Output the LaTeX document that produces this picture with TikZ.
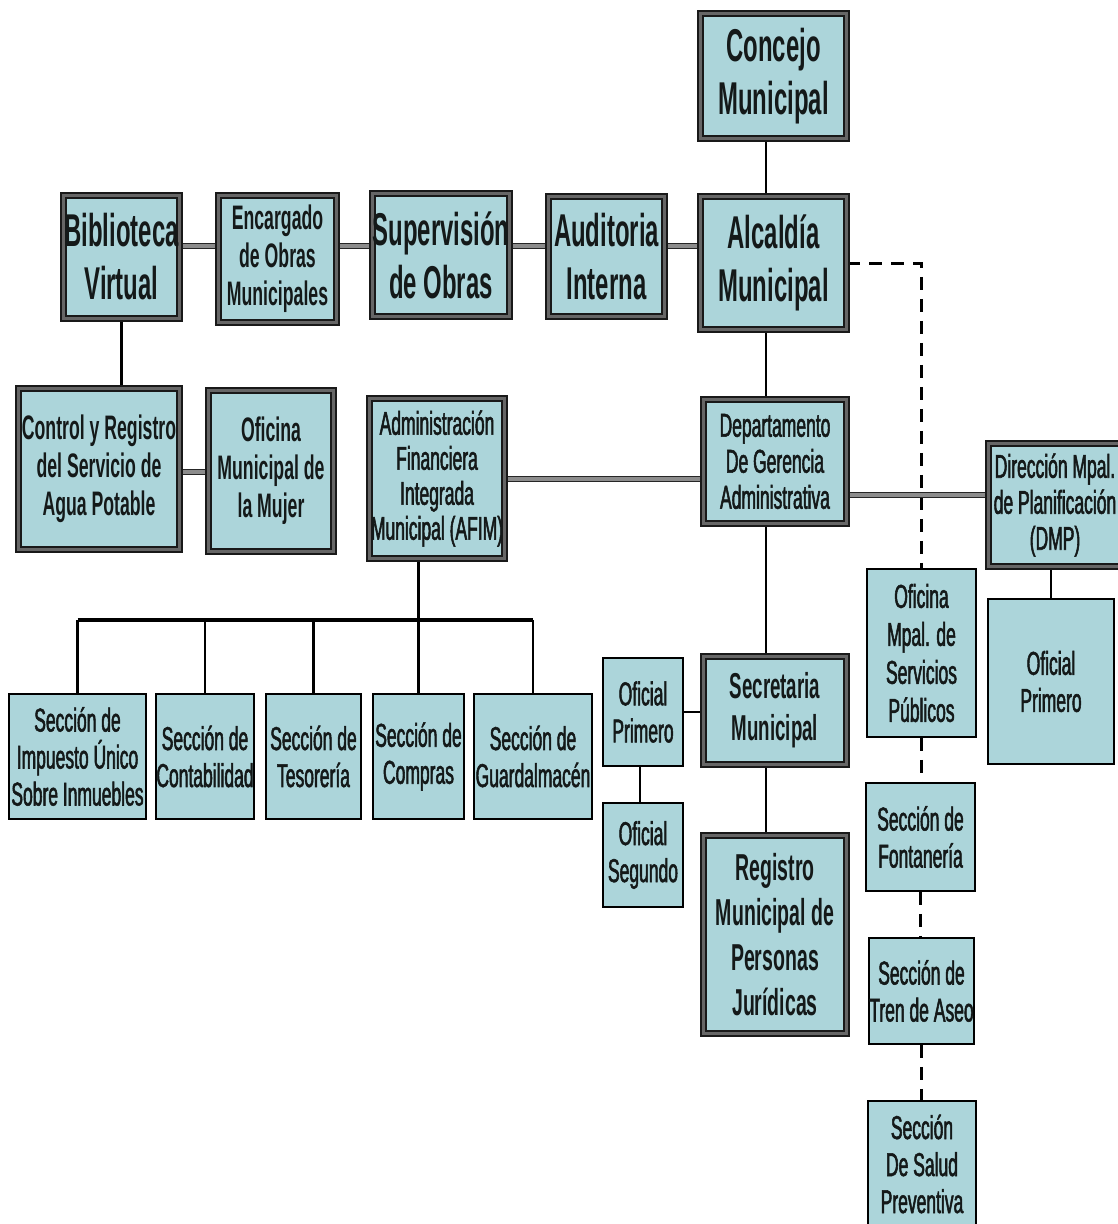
\documentclass[tikz,border=0pt]{standalone}
\usepackage{fontspec}
\setmainfont{Liberation Sans}[FakeStretch=0.52]
\newfontfamily\medfont{Liberation Sans}[FakeStretch=0.53, FakeBold=1.6]
\definecolor{boxfill}{RGB}{172,213,218}
\definecolor{inktext}{RGB}{20,25,25}
\newcommand\txtsize[2]{\fontsize{#1}{#2}\selectfont}
\pgfdeclarelayer{bg}
\pgfsetlayers{bg,main}
\tikzset{
  unit/.style={fill=boxfill, draw=black, line width=1.5pt, inner sep=0pt,
    align=center, text=inktext},
  frame/.style={unit, draw=black!90, double=black!60, double distance=3.5pt, line width=1.6pt},
  link/.style={draw=black, line width=2.8pt},
  dlink/.style={draw=black!85, double=black!45, double distance=3.2pt, line width=1.6pt},
  dashlink/.style={draw=black, line width=3pt, dash pattern=on 13pt off 9pt},
}

\begin{document}
\begin{tikzpicture}[x=1pt, y=-1pt,
  hugetext/.style={font=\bfseries\txtsize{46}{53}},
  boldtext/.style={font=\bfseries\txtsize{34}{38}},
  plaintext/.style={font=\medfont\txtsize{33}{37}},
  size/.style 2 args={minimum width=#1pt, minimum height=#2pt}
]
\useasboundingbox (0,0) rectangle (1118,1224);

% top row
\node[frame, hugetext, size={146}{125}] (concejo) at (773.5,76) {Concejo\\Municipal};
\node[frame, hugetext, size={146}{133}] (alcaldia) at (773.5,263) {Alcaldía\\Municipal};
\node[frame, hugetext, size={116}{120}] (auditoria) at (606.5,256.5) {Auditoria\\Interna};
\node[frame, hugetext, size={135}{123}] (supervision) at (441,255) {Supervisión\\de Obras};
\node[frame, boldtext, size={118}{127}] (encargado) at (277.5,259) {Encargado\\de Obras\\Municipales};
\node[frame, hugetext, size={116}{123}] (biblio) at (121.5,257) {Biblioteca\\Virtual};

% second row
\node[frame, boldtext, size={161}{161}] (control) at (99,469) {Control y Registro\\del Servicio de\\Agua Potable};
\node[frame, boldtext, size={125}{161}] (mujer) at (271,471) {Oficina\\Municipal de\\la Mujer};
\node[frame, plaintext, font=\medfont\txtsize{33}{35}, size={135}{160}] (afim) at (437,478.5) {Administración\\Financiera\\Integrada\\Municipal (AFIM)};
\node[frame, plaintext, font=\medfont\txtsize{33}{36}, size={143}{124}] (depto) at (775,461.5) {Departamento\\De Gerencia\\Administrativa};
\node[frame, plaintext, font=\medfont\txtsize{33}{36}, size={133}{123}] (dmp) at (1055,505) {Dirección Mpal.\\de Planificación\\(DMP)};

% AFIM sections
\node[unit, plaintext, size={137}{125}] (impuesto) at (77.5,756.5) {Sección de\\Impuesto Único\\Sobre Inmuebles};
\node[unit, plaintext, size={98}{125}] (contab) at (205,756.5) {Sección de\\Contabilidad};
\node[unit, plaintext, size={95}{125}] (tesoreria) at (313.5,756.5) {Sección de\\Tesorería};
\node[unit, plaintext, size={91}{125}] (compras) at (418.5,756.5) {Sección de\\Compras};
\node[unit, plaintext, size={118}{125}] (guardal) at (533,756.5) {Sección de\\Guardalmacén};

% secretaria branch
\node[frame, font=\bfseries\txtsize{36}{42}, size={143}{108}] (secretaria) at (775,710.5) {Secretaria\\Municipal};
\node[frame, font=\bfseries\txtsize{37.5}{45}, size={143}{198}] (registro) at (775,934.5) {Registro\\Municipal de\\Personas\\Jurídicas};
\node[unit, plaintext, size={80}{108}] (oficialp) at (643,712) {Oficial\\Primero};
\node[unit, plaintext, size={80}{104}] (oficials) at (643,855) {Oficial\\Segundo};

% servicios publicos
\node[unit, plaintext, font=\medfont\txtsize{33}{38}, size={109}{168}] (servicios) at (921.5,653) {Oficina\\Mpal. de\\Servicios\\Públicos};
\node[unit, plaintext, size={109}{108}] (fontaneria) at (920.5,837) {Sección de\\Fontanería};
\node[unit, plaintext, size={105}{106}] (tren) at (921.5,991) {Sección de\\Tren de Aseo};
\node[unit, plaintext, size={108}{126}] (salud) at (922,1164) {Sección\\De Salud\\Preventiva};
\node[unit, plaintext, size={126}{165}] (oficialder) at (1051,681.5) {Oficial\\Primero};

\coordinate (spine) at (766,0);
\coordinate (hbar) at (0,246);
\coordinate (bus) at (0,620);

\begin{pgfonlayer}{bg}
\draw[link] (concejo.south -| spine) -- (alcaldia.north -| spine);
\draw[link] (alcaldia.south -| spine) -- (depto.north -| spine);
\draw[link] (depto.south -| spine) -- (secretaria.north -| spine);
\draw[link] (secretaria.south -| spine) -- (registro.north -| spine);
\draw[dlink] (biblio.east |- hbar) -- (encargado.west |- hbar);
\draw[dlink] (encargado.east |- hbar) -- (supervision.west |- hbar);
\draw[dlink] (supervision.east |- hbar) -- (auditoria.west |- hbar);
\draw[dlink] (auditoria.east |- hbar) -- (alcaldia.west |- hbar);
\draw[link] (biblio.south) -- (biblio.south |- control.north);
\draw[dlink] (control.east |- 0,472) -- (mujer.west |- 0,472);
\draw[dlink] (afim.east |- 0,479) -- (depto.west |- 0,479);
\draw[dashlink] (alcaldia.east) -| (servicios.north);
\draw[dlink] (depto.east |- 0,495) -- (dmp.west |- 0,495);
\draw[link] (afim.south -| compras.north) -- (compras.north);
\draw[link, line width=3.5pt] (impuesto.north |- bus) -- (guardal.north |- bus);
\foreach \sec in {impuesto,contab,tesoreria,guardal}
  \draw[link] (\sec.north) -- (\sec.north |- bus);
\draw[link] (oficialp.east) -- (oficialp.east -| secretaria.west);
\draw[link] (oficialp.south -| 640,0) -- (oficials.north -| 640,0);
\draw[link] (dmp.south -| oficialder.north) -- (oficialder.north);
\draw[dashlink] (servicios.south) -- (fontaneria.north -| servicios.south);
\draw[dashlink] (fontaneria.south) -- (tren.north -| fontaneria.south);
\draw[dashlink] (tren.south) -- (salud.north -| tren.south);
\end{pgfonlayer}
\end{tikzpicture}
\end{document}
